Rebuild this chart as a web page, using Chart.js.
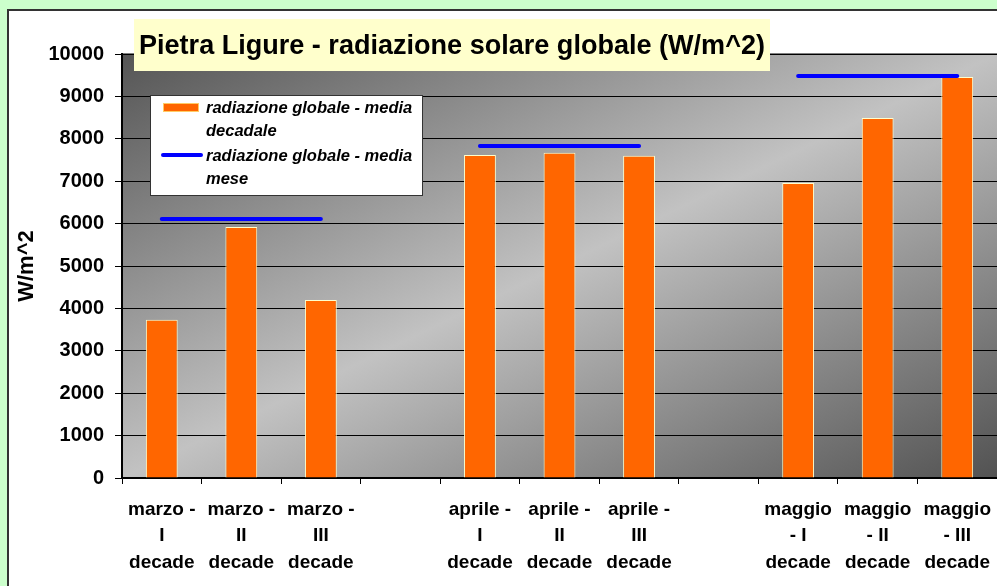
<!DOCTYPE html>
<html>
<head>
<meta charset="utf-8">
<script src="https://cdn.jsdelivr.net/npm/chart.js@4"></script>
<style>
  html, body { margin: 0; padding: 0; background: #ccffcc; }
  #grafico { display: block; }
</style>
</head>
<body>
<canvas id="grafico" width="997" height="586"></canvas>
<script>
// categorie (una vuota tra i mesi)
const etichette = [
    ['marzo -', 'I', 'decade'], ['marzo -', 'II', 'decade'], ['marzo -', 'III', 'decade'], '',
    ['aprile -', 'I', 'decade'], ['aprile -', 'II', 'decade'], ['aprile -', 'III', 'decade'], '',
    ['maggio', '- I', 'decade'], ['maggio', '- II', 'decade'], ['maggio', '- III', 'decade']
];
const mediaDecadale = [3730, 5920, 4200, null, 7620, 7670, 7600, null, 6960, 8490, 9460];
const mediaMese = [6110, 6110, 6110, null, 7830, 7830, 7830, null, 9480, 9480, 9480];
const tickY = [0, 1000, 2000, 3000, 4000, 5000, 6000, 7000, 8000, 9000, 10000];

const titolo = 'Pietra Ligure - radiazione solare globale (W/m^2)';
const nomeBarre = ['radiazione globale - media', 'decadale'];
const nomeLinea = ['radiazione globale - media', 'mese'];

const FONT = '"Liberation Sans", Arial, sans-serif';

const sfondo = {
    id: 'sfondo',
    beforeDraw(chart) {
        const ctx = chart.ctx;
        const a = chart.chartArea;
        ctx.save();
        ctx.fillStyle = '#ccffcc';
        ctx.fillRect(0, 0, chart.width, chart.height);
        ctx.fillStyle = '#ffffff';
        ctx.fillRect(8, 10, chart.width, chart.height);
        ctx.strokeStyle = '#333333';
        ctx.lineWidth = 2;
        ctx.beginPath();
        ctx.moveTo(8, chart.height);
        ctx.lineTo(8, 10);
        ctx.lineTo(chart.width, 10);
        ctx.stroke();

        // gradiente diagonale dell'area del grafico
        ctx.save();
        ctx.translate(a.left, a.top);
        ctx.scale(a.right - a.left, a.bottom - a.top);
        const g = ctx.createLinearGradient(0, 0, 1, 1);
        g.addColorStop(0, '#555555');
        g.addColorStop(0.5, '#c2c2c2');
        g.addColorStop(1, '#525252');
        ctx.fillStyle = g;
        ctx.fillRect(0, 0, 1, 1);
        ctx.restore();

        ctx.strokeStyle = '#808080';
        ctx.lineWidth = 2;
        ctx.beginPath();
        ctx.moveTo(a.left, a.top);
        ctx.lineTo(a.right, a.top);
        ctx.stroke();
        ctx.restore();
    },
    afterDraw(chart) {
        const ctx = chart.ctx;
        ctx.save();
        // titolo
        ctx.fillStyle = '#ffffcc';
        ctx.fillRect(134, 19, 636, 52);
        ctx.fillStyle = '#000000';
        ctx.font = 'bold 28px ' + FONT;
        ctx.textBaseline = 'alphabetic';
        ctx.textAlign = 'left';
        ctx.fillText(titolo, 139, 54, 626);

        // legenda
        ctx.fillStyle = '#ffffff';
        ctx.fillRect(150, 95, 272, 100);
        ctx.strokeStyle = '#333333';
        ctx.lineWidth = 1;
        ctx.strokeRect(150.5, 95.5, 272, 100);
        ctx.fillStyle = '#ff6600';
        ctx.fillRect(163, 103, 36, 9);
        ctx.strokeStyle = '#ffcc66';
        ctx.strokeRect(163.5, 103.5, 35, 8);
        ctx.strokeStyle = '#0000ff';
        ctx.lineWidth = 4;
        ctx.lineCap = 'round';
        ctx.beginPath();
        ctx.moveTo(163, 155);
        ctx.lineTo(201, 155);
        ctx.stroke();
        ctx.fillStyle = '#000000';
        ctx.textBaseline = 'middle';
        ctx.font = 'italic bold 16.5px ' + FONT;
        ctx.fillText(nomeBarre[0], 206, 108);
        ctx.fillText(nomeBarre[1], 206, 131);
        ctx.fillText(nomeLinea[0], 206, 156);
        ctx.fillText(nomeLinea[1], 206, 179);
        ctx.restore();
    }
};

new Chart(document.getElementById('grafico'), {
    type: 'bar',
    data: {
        labels: etichette,
        datasets: [
            {
                type: 'line',
                label: nomeLinea.join(' '),
                data: mediaMese,
                borderColor: '#0000ff',
                borderWidth: 4,
                borderCapStyle: 'round',
                pointRadius: 0,
                spanGaps: false,
                order: 0
            },
            {
                label: nomeBarre.join(' '),
                data: mediaDecadale,
                backgroundColor: '#ff6600',
                borderColor: '#ffffcc',
                borderWidth: 1,
                barPercentage: 0.4,
                categoryPercentage: 1,
                order: 1
            }
        ]
    },
    options: {
        responsive: false,
        animation: false,
        layout: { padding: { top: 54, left: 0, right: 0, bottom: 0 } },
        plugins: {
            legend: { display: false },
            title: { display: false },
            tooltip: { enabled: false }
        },
        scales: {
            x: {
                grid: { display: true, drawOnChartArea: false, offset: true, tickLength: 6, color: '#000000' },
                border: { color: '#000000', width: 2 },
                ticks: {
                    color: '#000000',
                    padding: 12,
                    maxRotation: 0,
                    autoSkip: false,
                    font: { family: FONT, size: 19, weight: 'bold', lineHeight: 1.4 }
                },
                afterFit(s) {
                    s.height = 108;
                    s.paddingLeft = 0;
                    s.paddingRight = 0;
                }
            },
            y: {
                min: 0,
                max: 10000,
                afterBuildTicks(s) { s.ticks = tickY.map(v => ({ value: v })); },
                grid: { color: '#000000', tickLength: 7, lineWidth: 1 },
                border: { color: '#000000', width: 2 },
                ticks: {
                    color: '#000000',
                    padding: 11,
                    callback: v => String(v),
                    font: { family: FONT, size: 20, weight: 'bold' }
                },
                title: {
                    display: true,
                    text: 'W/m^2',
                    color: '#000000',
                    padding: { top: 14, bottom: 0 },
                    font: { family: FONT, size: 22, weight: 'bold' }
                },
                afterFit(s) { s.width = 122; }
            }
        }
    },
    plugins: [sfondo]
});
</script>
</body>
</html>
